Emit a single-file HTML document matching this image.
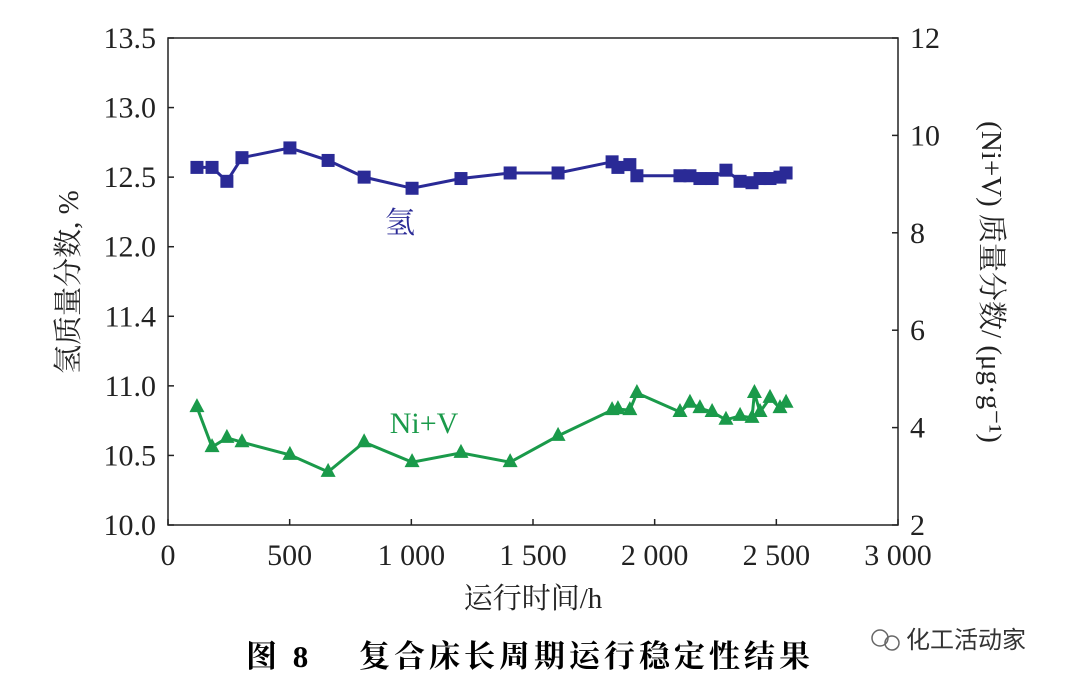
<!DOCTYPE html>
<html><head><meta charset="utf-8"><style>
body{margin:0;background:#fff}
svg{display:block;font-family:"Liberation Serif","Noto Serif CJK SC",serif}
</style></head><body>
<svg width="1080" height="688" viewBox="0 0 1080 688">
<g id="plot"></g>
<text x="530" y="667" font-size="31" font-weight="bold" text-anchor="middle" font-family="'Liberation Serif','Noto Serif CJK SC',serif" letter-spacing="4">图 8　 复合床长周期运行稳定性结果</text>
<g>
<circle cx="880" cy="638" r="8" fill="none" stroke="#666" stroke-width="1.5"/>
<circle cx="892" cy="643" r="7" fill="none" stroke="#666" stroke-width="1.5"/>
<text x="906" y="648" font-size="24" fill="#333" font-family="'Liberation Sans','Noto Sans CJK SC',sans-serif">化工活动家</text>
</g>
</svg>
<script>
const hx=[119,181,242,304,501,658,806,1003,1204,1406,1603,1825,1849,1898,1927,2104,2145,2186,2236,2293,2351,2400,2433,2474,2515,2540];
const hy=[12.57,12.57,12.47,12.64,12.71,12.62,12.50,12.42,12.49,12.53,12.53,12.61,12.57,12.59,12.51,12.51,12.51,12.49,12.49,12.55,12.47,12.46,12.49,12.49,12.50,12.53];
const nx=[119,181,242,304,501,658,806,1003,1204,1406,1603,1825,1849,1898,1927,2104,2145,2186,2236,2293,2351,2400,2410,2433,2474,2515,2540];
const ny=[4.42,3.60,3.79,3.70,3.44,3.09,3.70,3.29,3.48,3.29,3.83,4.36,4.38,4.36,4.71,4.32,4.51,4.40,4.32,4.16,4.24,4.20,4.71,4.32,4.61,4.40,4.51];
const xTicks=[0,500,1000,1500,2000,2500,3000];
const xLabels=["0","500","1 000","1 500","2 000","2 500","3 000"];
const lTicks=[10.0,10.5,11.0,11.5,12.0,12.5,13.0,13.5];
const lLabels=["10.0","10.5","11.0","11.4","12.0","12.5","13.0","13.5"];
const rTicks=[2,4,6,8,10,12];
const L=168,R=898,T=38,B=525;
const X=v=>L+(v/3000)*(R-L);
const YL=v=>B-(v-10)/3.5*(B-T);
const YR=v=>B-(v-2)/10*(B-T);
const NS="http://www.w3.org/2000/svg";
const g=document.getElementById('plot');
function mk(t,a,txt){const e=document.createElementNS(NS,t);for(const k in a)e.setAttribute(k,a[k]);if(txt!=null)e.textContent=txt;g.appendChild(e);return e;}
const frame=mk('rect',{x:L,y:T,width:R-L,height:B-T,fill:'none',stroke:'#222','stroke-width':1.5});


xTicks.forEach((v,i)=>{
 mk('line',{x1:X(v),x2:X(v),y1:B,y2:B-6,stroke:'#222','stroke-width':1.5});
 const t=mk('text',{x:X(v),y:B+40,'font-size':30,'text-anchor':'middle',fill:'#222'},xLabels[i]);
 
 
});
lTicks.forEach((v,i)=>{
 mk('line',{x1:L,x2:L+6,y1:YL(v),y2:YL(v),stroke:'#222','stroke-width':1.5});
 const t=mk('text',{x:L-12,y:YL(v)+10,'font-size':30,'text-anchor':'end',fill:'#222'},lLabels[i]);
 
 
});
rTicks.forEach(v=>{
 mk('line',{x1:R,x2:R-6,y1:YR(v),y2:YR(v),stroke:'#222','stroke-width':1.5});
 const t=mk('text',{x:R+12,y:YR(v)+10,'font-size':30,fill:'#222'},String(v));
 
 
});
const xt=mk('text',{x:533,y:608,'font-size':29,'text-anchor':'middle',fill:'#222'},'运行时间/h');


const lt=mk('text',{x:0,y:0,'font-size':29,'text-anchor':'middle',fill:'#222',transform:'translate(78,282) rotate(-90)'},'氢质量分数, %');


const rt=mk('text',{x:0,y:0,'font-size':29,'text-anchor':'middle',fill:'#222',transform:'translate(982,282) rotate(90)'},'(Ni+V) 质量分数/ (μg·g⁻¹)');


const hl=mk('polyline',{points:hx.map((v,i)=>X(v)+','+YL(hy[i])).join(' '),fill:'none',stroke:'#2a2a96','stroke-width':3});


hx.forEach((v,i)=>{
 const m=mk('rect',{x:X(v)-6.5,y:YL(hy[i])-6.5,width:13,height:13,fill:'#2a2a96'});
 
 
});
const nl=mk('polyline',{points:nx.map((v,i)=>X(v)+','+YR(ny[i])).join(' '),fill:'none',stroke:'#1a9a4a','stroke-width':3});


nx.forEach((v,i)=>{
 const x=X(v),y=YR(ny[i]);
 const m=mk('polygon',{points:`${x},${y-9} ${x-7.5},${y+5} ${x+7.5},${y+5}`,fill:'#1a9a4a'});
 
 
});
const l1=mk('text',{x:400,y:233,'font-size':30,'text-anchor':'middle',fill:'#2a2a96'},'氢');


const l2=mk('text',{x:424,y:433,'font-size':30,'text-anchor':'middle',fill:'#1a9a4a'},'Ni+V');


</script>
</body></html>
